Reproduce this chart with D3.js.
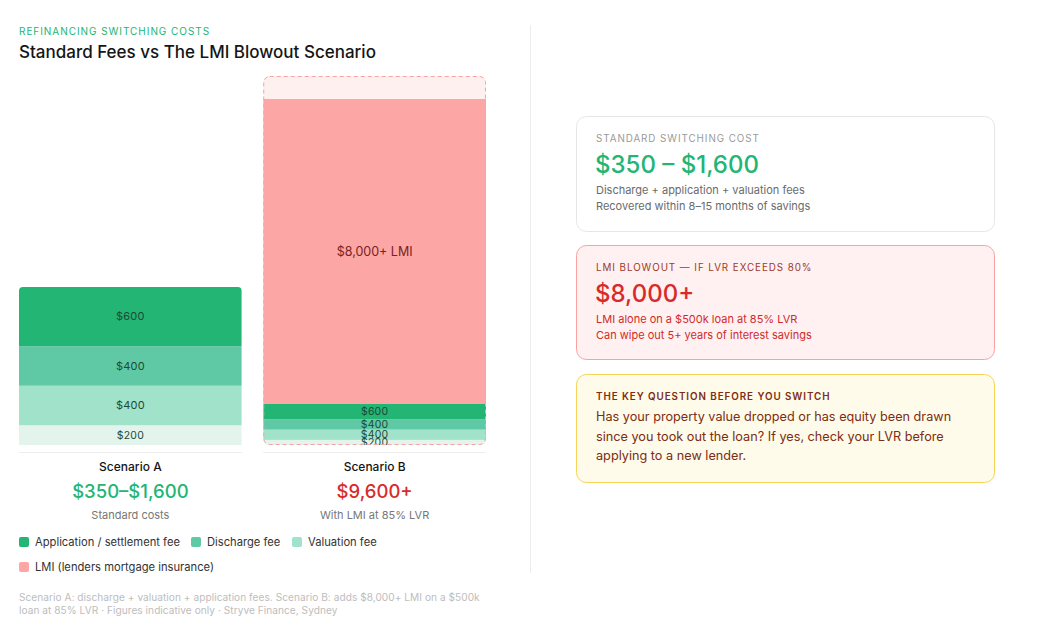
<!DOCTYPE html>
<html><head><meta charset="utf-8">
<script src="https://cdn.jsdelivr.net/npm/d3@7"></script>
<style>
html,body{margin:0;padding:0;background:#fff;}
svg{display:block;font-family:Inter,"Noto Sans",sans-serif;}
</style></head><body>
<svg id="c" width="1040" height="641"></svg>
<script>
// ---- data ----
const segKeys = ["misc","valuation","discharge","application"];
const segLabels = ["$200","$400","$400","$600"];
const scenarioA = [200, 400, 400, 600];
const scenarioB = [200, 400, 400, 600];
const lmiValue = 8000;
const lmiLabel = "$8,000+ LMI";
const scenarioNames = ["Scenario A","Scenario B"];
const scenarioTotals = ["$350–$1,600","$9,600+"];
const scenarioSubs = ["Standard costs","With LMI at 85% LVR"];
const legendItems = ["Application / settlement fee","Discharge fee","Valuation fee","LMI (lenders mortgage insurance)"];
const footLines = ["Scenario A: discharge + valuation + application fees. Scenario B: adds $8,000+ LMI on a $500k",
                   "loan at 85% LVR · Figures indicative only · Stryve Finance, Sydney"];
const cards = [
  {label:"STANDARD SWITCHING COST", value:"$350 – $1,600", lines:["Discharge + application + valuation fees","Recovered within 8–15 months of savings"]},
  {label:"LMI BLOWOUT — IF LVR EXCEEDS 80%", value:"$8,000+", lines:["LMI alone on a $500k loan at 85% LVR","Can wipe out 5+ years of interest savings"]},
  {label:"THE KEY QUESTION BEFORE YOU SWITCH", value:null, lines:["Has your property value dropped or has equity been drawn","since you took out the loan? If yes, check your LVR before","applying to a new lender."]}
];

// ---- styles ----
const segColors = {misc:"#e2f4ec", valuation:"#a1e2ca", discharge:"#5ec9a4", application:"#23b573"};
const lmiColor = "#fca7a5";
const green = "#22b573", red = "#d92a2a";

const svg = d3.select("#c");

// header
svg.append("text").attr("x",19).attr("y",35).attr("font-size",10).attr("letter-spacing",0.95)
  .attr("fill",green).text("REFINANCING SWITCHING COSTS");
svg.append("text").attr("x",19).attr("y",57.5).attr("font-size",17).attr("font-weight",500)
  .attr("fill","#151515").text("Standard Fees vs The LMI Blowout Scenario");

// divider
svg.append("line").attr("x1",530.5).attr("x2",530.5).attr("y1",25).attr("y2",573).attr("stroke","#ececec");

// x band
const x = d3.scaleBand().domain(scenarioNames).range([19,486]).paddingInner(0.088);
const bw = x.bandwidth();
const base = 445;
const yA = d3.scaleLinear().domain([0, d3.sum(scenarioA)]).range([base, 287]);
const yB = d3.scaleLinear().domain([0, d3.sum(scenarioB), d3.sum(scenarioB)+lmiValue]).range([base, 404, 99]);

function stackData(vals){
  let c=0; return vals.map((v,i)=>{const d={key:segKeys[i],label:segLabels[i],y0:c,y1:c+v}; c+=v; return d;});
}

// Scenario A
const gA = svg.append("g");
const xa = x("Scenario A");
svg.append("defs").append("clipPath").attr("id","clipA").append("path")
  .attr("d",`M${xa},${base} V${yA(1600)+4} Q${xa},${yA(1600)} ${xa+4},${yA(1600)} H${xa+bw-4} Q${xa+bw},${yA(1600)} ${xa+bw},${yA(1600)+4} V${base} Z`);
const sa = stackData(scenarioA);
gA.attr("clip-path","url(#clipA)").selectAll("rect").data(sa).join("rect")
  .attr("x",xa).attr("width",bw).attr("y",d=>yA(d.y1)).attr("height",d=>yA(d.y0)-yA(d.y1))
  .attr("fill",d=>segColors[d.key]);
gA.selectAll("text").data(sa).join("text")
  .attr("x",xa+bw/2).attr("y",d=>(yA(d.y0)+yA(d.y1))/2).attr("dy","0.35em")
  .attr("text-anchor","middle").attr("font-size",d=>d.key==="misc"?10.5:11).attr("letter-spacing",0.2).attr("fill","#1d4a36")
  .text(d=>d.label);

// Scenario B
const xb = x("Scenario B");
const topB = yB(d3.sum(scenarioB)+lmiValue) - 23;
svg.select("defs").append("clipPath").attr("id","clipB").append("rect")
  .attr("x",xb).attr("y",topB).attr("width",bw).attr("height",base-topB).attr("rx",6);
const gB = svg.append("g").attr("clip-path","url(#clipB)");
gB.append("rect").attr("x",xb).attr("y",topB).attr("width",bw).attr("height",base-topB).attr("fill","#fff0f0");
const sb = stackData(scenarioB);
gB.append("rect").attr("x",xb).attr("width",bw)
  .attr("y",yB(d3.sum(scenarioB)+lmiValue)).attr("height",yB(d3.sum(scenarioB))-yB(d3.sum(scenarioB)+lmiValue))
  .attr("fill",lmiColor);
gB.append("text").attr("x",xb+bw/2).attr("y",(yB(d3.sum(scenarioB))+yB(d3.sum(scenarioB)+lmiValue))/2)
  .attr("dy","0.35em").attr("text-anchor","middle").attr("font-size",12.5).attr("fill","#7a2222").text(lmiLabel);
gB.selectAll("rect.s").data(sb).join("rect").attr("class","s")
  .attr("x",xb).attr("width",bw).attr("y",d=>yB(d.y1)).attr("height",d=>yB(d.y0)-yB(d.y1))
  .attr("fill",d=>segColors[d.key]);
gB.selectAll("text.s").data(sb).join("text").attr("class","s")
  .attr("x",xb+bw/2).attr("y",d=>(yB(d.y0)+yB(d.y1))/2).attr("dy","0.35em")
  .attr("text-anchor","middle").attr("font-size",10.5).attr("letter-spacing",0.2).attr("fill","#1d4a36").text(d=>d.label);
svg.append("rect").attr("x",xb+0.5).attr("y",topB+0.5).attr("width",bw-1).attr("height",base-topB-1)
  .attr("rx",6).attr("fill","none").attr("stroke","#f6a3a3").attr("stroke-dasharray","4,3");

// baseline separators & labels
scenarioNames.forEach((n,i)=>{
  const cx = x(n)+bw/2;
  svg.append("line").attr("x1",x(n)).attr("x2",x(n)+bw).attr("y1",452.5).attr("y2",452.5).attr("stroke","#eeeeee");
  svg.append("text").attr("x",cx).attr("y",470.5).attr("text-anchor","middle").attr("font-size",12)
    .attr("font-weight",500).attr("fill","#151515").text(n);
  svg.append("text").attr("x",cx).attr("y",498).attr("text-anchor","middle").attr("font-size",18.5)
    .attr("font-weight",500).attr("fill",i===0?green:red).text(scenarioTotals[i]);
  svg.append("text").attr("x",cx).attr("y",519).attr("text-anchor","middle").attr("font-size",11)
    .attr("fill","#777").text(scenarioSubs[i]);
});

// legend
const legColors = [segColors.application, segColors.discharge, segColors.valuation, lmiColor];
const legPos = [[19,537],[191,537],[292,537],[19,562]];
legendItems.forEach((t,i)=>{
  const [lx,ly]=legPos[i];
  svg.append("rect").attr("x",lx).attr("y",ly).attr("width",10).attr("height",10).attr("rx",2).attr("fill",legColors[i]);
  svg.append("text").attr("x",lx+16).attr("y",ly+9).attr("font-size",11.2).attr("fill","#333").text(t);
});

// footnote
footLines.forEach((t,i)=>{
  svg.append("text").attr("x",19).attr("y",601+i*12.5).attr("font-size",10.1).attr("letter-spacing",0.05).attr("fill","#bdbdbd").text(t);
});

// cards
const cardBoxes = [
  {y:116,h:115,fill:"#ffffff",stroke:"#e6e6e6",lab:"#9a9a9a",val:green,txt:"#6b6b6b"},
  {y:245,h:114,fill:"#fff1f1",stroke:"#f6a3a3",lab:"#9b3a2a",val:red,txt:"#d02b2b"},
  {y:374,h:108,fill:"#fffbea",stroke:"#f7d35a",lab:"#7c2d12",val:null,txt:"#7c2d12"}
];
cards.forEach((c,i)=>{
  const b = cardBoxes[i];
  const g = svg.append("g");
  g.append("rect").attr("x",576.5).attr("y",b.y+0.5).attr("width",418).attr("height",b.h).attr("rx",10)
    .attr("fill",b.fill).attr("stroke",b.stroke);
  g.append("text").attr("x",596).attr("y",b.y+26).attr("font-size",9.8).attr("letter-spacing",0.95)
    .attr("font-weight",i===2?600:400).attr("fill",b.lab).text(c.label);
  if(c.value){
    g.append("text").attr("x",595).attr("y",b.y+57).attr("font-size",24).attr("font-weight",500)
      .attr("fill",b.val).text(c.value);
    c.lines.forEach((t,j)=>g.append("text").attr("x",596).attr("y",b.y+78+j*16).attr("font-size",11)
      .attr("fill",b.txt).text(t));
  } else {
    c.lines.forEach((t,j)=>g.append("text").attr("x",596).attr("y",b.y+47+j*19.5).attr("font-size",12.7)
      .attr("fill",b.txt).text(t));
  }
});
</script></body></html>
